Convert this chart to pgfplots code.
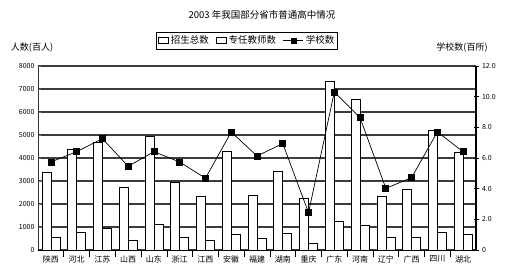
\documentclass[border=0pt]{standalone}
\usepackage{pgfplots}
\pgfplotsset{compat=1.18}
\usepackage{fontspec}
\setmainfont{Noto Sans CJK SC}
\definecolor{gridc}{RGB}{60,60,60}
\begin{document}
\begin{tikzpicture}[x=1pt,y=1pt]
\pgfplotsset{
  common/.style={
    scale only axis, width=438pt, height=184pt,
    at={(0pt,0pt)}, anchor=south west,
    xmin=-0.5, xmax=16.5,
    /pgf/number format/assume math mode=true,
    /pgf/number format/1000 sep={},
    tick label style={font=\fontsize{7}{8}\selectfont},
  }
}
\begin{axis}[common,
  ymin=0, ymax=8000, ytick={0,1000,...,8000},
  axis x line*=bottom, axis y line*=left,
  x axis line style={black, line width=0.8pt},
  y axis line style={black!80, line width=0.5pt},
  ymajorgrids, major grid style={gridc, line width=1.1pt},
  xtick={0,...,16},
  xticklabels={陕西,河北,江苏,山西,山东,浙江,江西,安徽,福建,湖南,重庆,广东,河南,辽宁,广西,四川,湖北},
  xticklabel style={font=\fontsize{8}{9}\selectfont, yshift=1pt},
  major x tick style={draw=none},
  minor xtick={0.5,1.5,...,15.5},
  minor tick length=7pt,
  minor x tick style={black, line width=0.6pt},
  major tick length=3pt,
  ybar=0pt, bar width=9pt,
  legend style={at={(0.478,1.1375)}, anchor=center, legend columns=-1,
    draw=black, line width=0.8pt, inner sep=1.5pt,
    font=\fontsize{9.5}{11}\selectfont,
    /tikz/every even column/.append style={column sep=5pt}},
]
\addplot[draw=black, line width=0.6pt, fill=white,
  legend image code/.code={\draw[black, line width=0.6pt, fill=white] (0pt,-3pt) rectangle (10pt,3pt);}]
  coordinates {(0,3390) (1,4380) (2,4700) (3,2710) (4,4950) (5,2930) (6,2350) (7,4300) (8,2380) (9,3430) (10,2230) (11,7320) (12,6550) (13,2350) (14,2640) (15,5220) (16,4230)};
\addlegendentry{招生总数}
\addplot[draw=black, line width=0.6pt, fill=white,
  legend image code/.code={\draw[black, line width=0.6pt, fill=white] (0pt,-3pt) rectangle (10pt,3pt);}]
  coordinates {(0,535) (1,780) (2,930) (3,435) (4,1130) (5,565) (6,435) (7,680) (8,510) (9,725) (10,275) (11,1230) (12,1090) (13,535) (14,535) (15,780) (16,680)};
\addlegendentry{专任教师数}
\addlegendimage{legend image code/.code={\draw[black, line width=0.8pt] (0pt,0pt) -- (20pt,0pt); \fill[black] (7.5pt,-2.5pt) rectangle (12.5pt,2.5pt);}}
\addlegendentry{学校数}
\end{axis}
\begin{axis}[common,
  ymin=0, ymax=12, ytick={0,2,...,12},
  yticklabels={0,2.0,4.0,6.0,8.0,10.0,12.0},
  axis x line=none, axis y line*=right,
  y axis line style={black, line width=1.2pt},
  tick align=center, major tick length=5pt,
  ytick style={black, line width=0.6pt},
]
\addplot[black, line width=0.7pt, mark=square*, mark size=3pt]
  coordinates {(0,5.74) (1,6.41) (2,7.26) (3,5.46) (4,6.41) (5,5.74) (6,4.68) (7,7.70) (8,6.13) (9,6.94) (10,2.43) (11,10.3) (12,8.63) (13,4.02) (14,4.72) (15,7.70) (16,6.41)};
\end{axis}
\node[font=\fontsize{9.5}{11}\selectfont] at (224,235) {2003 年我国部分省市普通高中情况};
\node[font=\fontsize{9}{10}\selectfont] at (-6,202) {人数(百人)};
\node[font=\fontsize{9}{10}\selectfont] at (424,202) {学校数(百所)};
\pgfresetboundingbox
\path (-38,-26) rectangle (475,250);
\end{tikzpicture}
\end{document}
